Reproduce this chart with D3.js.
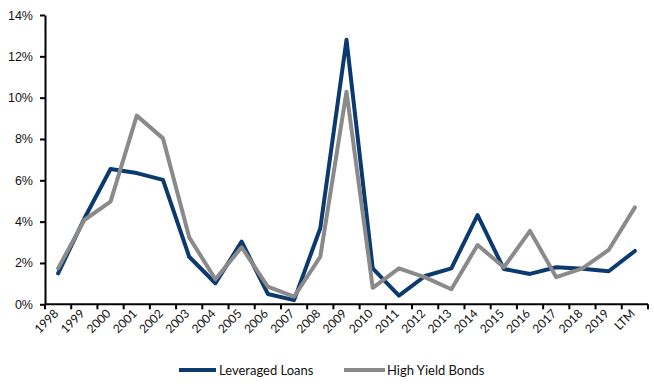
<!DOCTYPE html>
<html><head><meta charset="utf-8">
<script src="https://cdn.jsdelivr.net/npm/d3@7"></script>
<style>
body{margin:0;background:#fff;}
svg{display:block;font-family:"Lato","Open Sans",sans-serif;}
</style></head>
<body><svg id="c" width="654" height="386"></svg>
<script>
const categories = ["1998","1999","2000","2001","2002","2003","2004","2005","2006","2007","2008","2009","2010","2011","2012","2013","2014","2015","2016","2017","2018","2019","LTM"];
const leveragedLoans = [1.5,4.15,6.55,6.35,6.02,2.3,1.02,3.03,0.5,0.2,3.68,12.8,1.74,0.42,1.37,1.74,4.32,1.71,1.47,1.79,1.72,1.6,2.58];
const highYieldBonds = [1.74,4.08,4.97,9.13,8.03,3.24,1.21,2.76,0.85,0.37,2.3,10.29,0.8,1.74,1.3,0.73,2.87,1.79,3.55,1.31,1.74,2.63,4.69];
const yTicks = [0,2,4,6,8,10,12,14];
const seriesNames = ["Leveraged Loans","High Yield Bonds"];
const colors = ["#0B3A6E","#8A8A8A"];

const svg = d3.select("#c");
const x = d3.scaleBand().domain(categories).range([45,648]);
const y = d3.scaleLinear().domain([0,14]).range([304.3,15]);

// y axis
const ya = svg.append("g").attr("transform","translate(45,0)")
  .call(d3.axisLeft(y).tickValues(yTicks).tickFormat(d=>d+"%").tickSize(5).tickSizeOuter(0));
ya.select(".domain").attr("stroke","#000").attr("stroke-width",2);
ya.selectAll(".tick line").attr("stroke","#000").attr("stroke-width",2);
ya.selectAll("text").attr("font-size",12.5).attr("fill","#111").attr("x",-12);

// x axis line and ticks at band boundaries
const xg = svg.append("g");
xg.append("line").attr("x1",45).attr("x2",648).attr("y1",y(0)).attr("y2",y(0)).attr("stroke","#000").attr("stroke-width",2);
const bounds = categories.map(c=>x(c)).concat([x.range()[1]]);
xg.selectAll("line.t").data(bounds).join("line").attr("class","t")
  .attr("x1",d=>d).attr("x2",d=>d).attr("y1",y(0)).attr("y2",y(0)+5)
  .attr("stroke","#000").attr("stroke-width",2);
xg.selectAll("text").data(categories).join("text")
  .attr("transform",d=>`translate(${x(d)+x.bandwidth()/2+1},${y(0)+10}) rotate(-45)`)
  .attr("text-anchor","end").attr("font-size",12).attr("fill","#111")
  .text(d=>d);

// lines
const line = d3.line().x((d,i)=>x(categories[i])+x.bandwidth()/2).y(d=>y(d));
[leveragedLoans, highYieldBonds].forEach((s,k)=>{
  svg.append("path").datum(s).attr("d",line).attr("fill","none")
    .attr("stroke",colors[k]).attr("stroke-width",4).attr("stroke-linejoin","round").attr("stroke-linecap","round");
});
// draw order: loans first then bonds; ensure loans peak visible
// legend
const leg = [{x1:179,x2:216,tx:219},{x1:344,x2:385,tx:387}];
leg.forEach((l,k)=>{
  svg.append("line").attr("x1",l.x1).attr("x2",l.x2).attr("y1",370).attr("y2",370)
    .attr("stroke",colors[k]).attr("stroke-width",4);
  svg.append("text").attr("x",l.tx).attr("y",375).attr("font-size",13).attr("fill","#111").text(seriesNames[k]);
});
</script></body></html>
